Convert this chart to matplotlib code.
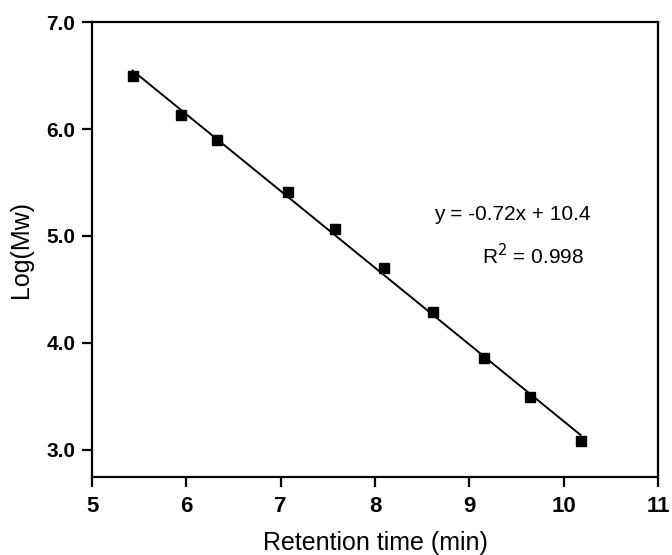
import matplotlib.pyplot as plt
import numpy as np

plt.rcParams['font.family'] = ['Liberation Sans', 'DejaVu Sans']

# 표준 시료 데이터 (머무름 시간, Log(Mw))
retention_time = [5.43, 5.94, 6.32, 7.08, 7.58, 8.10, 8.62, 9.16, 9.64, 10.18]
log_mw = [6.50, 6.13, 5.90, 5.41, 5.07, 4.70, 4.29, 3.86, 3.49, 3.08]
x_ticks = [5, 6, 7, 8, 9, 10, 11]
y_ticks = [3.0, 4.0, 5.0, 6.0, 7.0]

fig = plt.figure(figsize=(6.72, 5.55), dpi=100)
ax = fig.add_axes([0.137, 0.1405, 0.842, 0.8195])

# 선형 피팅 선
coef = np.polyfit(retention_time, log_mw, 1)
xf = np.array([min(retention_time), max(retention_time)])
ax.plot(xf, np.polyval(coef, xf), color='black', lw=1.4, zorder=1)

ax.plot(retention_time, log_mw, 's', color='black', ms=7.5, zorder=2)

ax.set_xlim(5, 11)
ax.set_ylim(2.745, 7.0)
ax.set_xticks(x_ticks)
ax.set_yticks(y_ticks)
ax.set_yticklabels(['%.1f' % v for v in y_ticks])

for s in ax.spines.values():
    s.set_linewidth(1.6)
ax.tick_params(direction='out', length=7, width=1.6, labelsize=15)
ax.tick_params(axis='x', labelsize=16, pad=7)
ax.tick_params(axis='y', pad=5)
for lab in ax.get_xticklabels() + ax.get_yticklabels():
    lab.set_fontweight('bold')

ax.set_xlabel('Retention time (min)', fontsize=18, labelpad=10)
ax.set_ylabel('Log(Mw)', fontsize=18, labelpad=10)

ax.text(8.63, 5.20, 'y = -0.72x + 10.4', fontsize=15, ha='left', va='center')
ax.text(9.14, 4.82, 'R$^2$ = 0.998', fontsize=15, ha='left', va='center')

fig.savefig('out.png', dpi=100)
